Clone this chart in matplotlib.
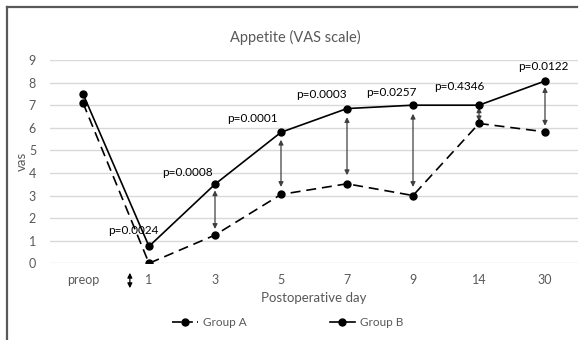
import matplotlib
matplotlib.use("Agg")
import matplotlib.pyplot as plt
from matplotlib.lines import Line2D

plt.rcParams['font.family'] = ['Lato', 'DejaVu Sans']

categories = ["preop", "1", "3", "5", "7", "9", "14", "30"]
group_a = [7.1, 0.0, 1.25, 3.05, 3.52, 3.0, 6.19, 5.82]
group_b = [7.5, 0.75, 3.5, 5.8, 6.85, 7.0, 7.0, 8.07]
p_labels = ["", "p=0.0024", "p=0.0008", "p=0.0001", "p=0.0003", "p=0.0257", "p=0.4346", "p=0.0122"]

# layout offsets for p-value labels (x offset in category units, y offset in data units)
label_dx = [0, 0.14, -0.03, -0.05, 0.0, 0.06, 0.09, 0.36]
label_dy = [0, 0.45, 0.28, 0.38, 0.38, 0.33, 0.58, 0.4]

gray_text = '#595959'
fig = plt.figure(figsize=(5.84, 3.40), dpi=100)
ax = fig.add_axes([50/584, 1-263.3/340, 528/584, 203.3/340])

x = list(range(len(categories)))
ax.plot(x, group_a, color='black', lw=1.2, ls=(0, (6, 3.5)), marker='o', ms=5, zorder=3)
ax.plot(x, group_b, color='black', lw=1.2, ls='-', marker='o', ms=5, zorder=3)

for i in range(2, len(categories)):
    a, b = group_a[i], group_b[i]
    diff = b - a
    gap = min(0.38, 0.12 * diff)
    ax.annotate('', xy=(i, a + gap), xytext=(i, b - gap),
                arrowprops=dict(arrowstyle='<|-|>', color='#404040', lw=0.9,
                                mutation_scale=7, shrinkA=0, shrinkB=0), zorder=2)

# small stray double arrow near day 1 below the axis
ax.annotate('', xy=(0.71, -1.1), xytext=(0.71, -0.42), xycoords='data',
            arrowprops=dict(arrowstyle='<|-|>', color='black', lw=0.9,
                            mutation_scale=7, shrinkA=0, shrinkB=0),
            annotation_clip=False)

for i in range(1, len(categories)):
    ax.text(i + label_dx[i], group_b[i] + label_dy[i], p_labels[i], ha='right', va='bottom',
            fontsize=8.5, color='black', zorder=4)

ax.set_xlim(-0.5, len(categories) - 0.5)
ax.set_ylim(0, 9)
ax.set_yticks(range(0, 10))
ax.set_xticks(x)
ax.set_xticklabels(categories)
ax.tick_params(length=0, colors=gray_text, labelsize=9, pad=8)
ax.tick_params(axis='y', pad=10)
ax.grid(axis='y', color='#d9d9d9', lw=1)
ax.set_axisbelow(True)
for s in ax.spines.values():
    s.set_visible(False)

ax.set_xlabel('Postoperative day', color=gray_text, fontsize=9.5, labelpad=4)
ax.set_ylabel('vas', color=gray_text, fontsize=9.5, labelpad=1)
fig.text(295/584, 1-37/340, 'Appetite (VAS scale)', ha='center', va='center',
         fontsize=10.5, color=gray_text)

h_a = Line2D([], [], color='black', lw=1.2, ls=(0, (5.8, 2.5, 4.2, 2.5, 6, 10)), marker='o', ms=5)
h_b = Line2D([], [], color='black', lw=1.2, ls='-', marker='o', ms=5)
leg = fig.legend([h_a, h_b], ['Group A', 'Group B'], loc='center',
                 bbox_to_anchor=(288/584, 1-323/340), ncol=2, frameon=False,
                 fontsize=8.5, handlelength=2.2, columnspacing=7, handletextpad=0.4)
for t in leg.get_texts():
    t.set_color(gray_text)

# outer frame (top and left edges)
fig.add_artist(Line2D([7/584, 577/584], [1-7/340, 1-7/340], color='#595959', lw=1.6))
fig.add_artist(Line2D([7/584, 7/584], [1-7/340, 0], color='#595959', lw=1.6))

fig.savefig('out.png', dpi=100)
